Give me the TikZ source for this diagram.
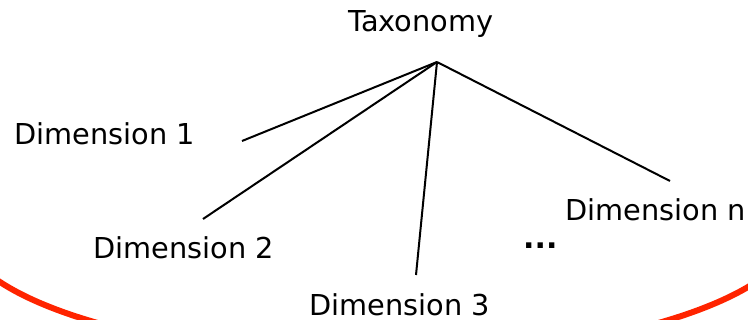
\documentclass[tikz,border=0pt]{standalone}
\usepackage{fontspec}
\setmainfont{DejaVu Sans}
\definecolor{arcred}{RGB}{255,36,0}
\begin{document}
\begin{tikzpicture}[x=1pt,y=-1pt,
  lbl/.style={inner sep=0pt,anchor=base west,font=\fontsize{28.8}{34}\selectfont},
  conn/.style={line width=2pt,black},
  arcline/.style={line width=6pt,arcred}]
\useasboundingbox (0,0) rectangle (748,320);
\clip (0,0) rectangle (748,320);
\coordinate (arcstart) at (-42,224);
\draw[arcline] (arcstart) arc [start angle=180,end angle=0,x radius=420,y radius=133];
\node[lbl] (tax) at (348,32) {Taxonomy};
\node[lbl] (d1) at (14,145) {Dimension 1};
\node[lbl] (d2) at (93,259) {Dimension 2};
\node[lbl] (d3) at (309,316) {Dimension 3};
\node[lbl] (dn) at (565,221) {Dimension n};
\node[lbl,font=\fontsize{30}{34}\bfseries] (dots) at (523,249) {...};
\coordinate (apex) at (437,62);
\coordinate (e1) at (242,141);
\coordinate (e2) at (203,219);
\coordinate (e3) at (416,275);
\coordinate (en) at (670,181);
\draw[conn] (apex) -- (e1);
\draw[conn] (apex) -- (e2);
\draw[conn] (apex) -- (e3);
\draw[conn] (apex) -- (en);
\end{tikzpicture}
\end{document}
